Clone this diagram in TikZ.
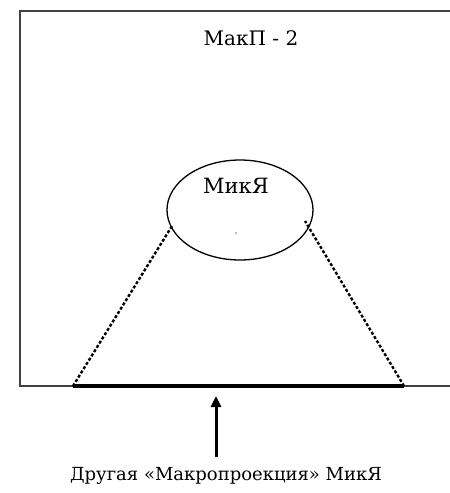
\documentclass[tikz,border=0pt]{standalone}
\usepackage{fontspec}
\setmainfont{DejaVu Serif}
\usetikzlibrary{arrows.meta,shapes.geometric}
\begin{document}
\begin{tikzpicture}[x=1pt,y=-1pt,
  frame/.style={draw=black!75,line width=1.6pt},
  proj/.style={line width=2.4pt,dash pattern=on 3pt off 2pt},
  lbl/.style={inner sep=0pt}]
\useasboundingbox (0,0) rectangle (450,493);
\draw[frame] (451,11) -- (20,11) -- (20,386) -- (451,386);
\node[lbl,font=\fontsize{20}{24}\selectfont] (t) at (251,38) {МакП - 2};
\node[draw,line width=1.3pt,ellipse,minimum width=146pt,minimum height=100pt,inner sep=0pt] (e) at (240,210) {};
\node[lbl,font=\fontsize{21}{24}\selectfont] (m) at (236,186) {МикЯ};
\fill[black!50] (236,233) circle (0.9pt);
\coordinate (a) at (73,386);
\coordinate (b) at (404,386);
\coordinate (el) at (172,226);
\coordinate (er) at (305,221);
\draw[proj] (a) -- (el);
\draw[proj] (b) -- (er);
\draw[line width=4pt] (a) -- (b);
\node[lbl,font=\fontsize{18}{22}\selectfont] (c) at (226,476) {Другая «Макропроекция» МикЯ};
\coordinate (arr) at (216,396);
\draw[line width=3pt,-{Triangle[length=11pt,width=10pt]}] (216,457) -- (arr);
\end{tikzpicture}
\end{document}
